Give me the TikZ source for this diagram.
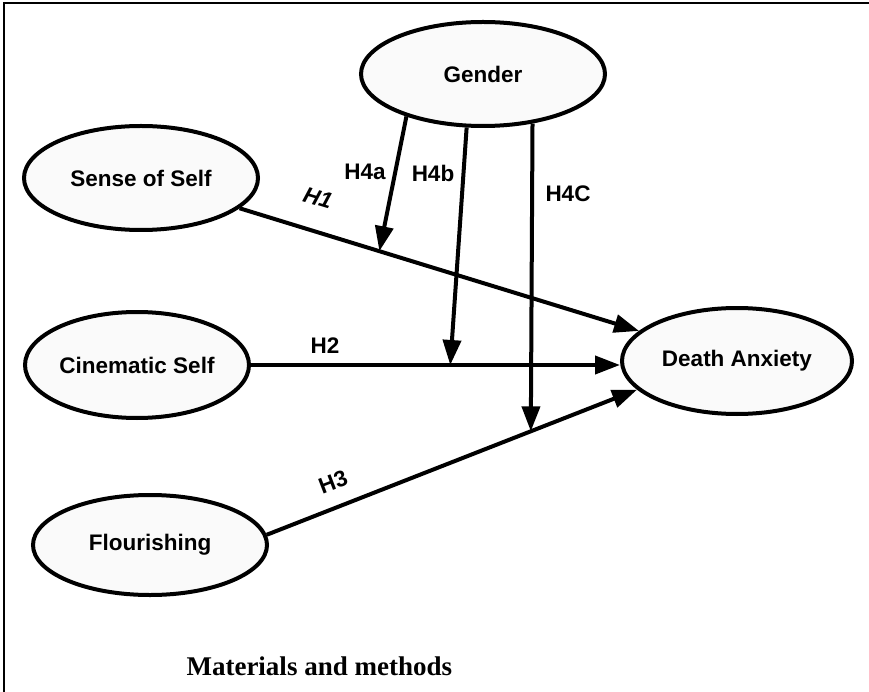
\documentclass[tikz,border=0pt]{standalone}
\usepackage{fontspec}
\setmainfont{Liberation Sans}
\newfontfamily\timesbf{Liberation Serif}
\usetikzlibrary{shapes.geometric,arrows.meta}
\tikzstyle{Oval}=[ellipse,draw,line width=4pt,fill=gray!4,inner sep=0pt,font=\fontsize{22.5}{27}\selectfont\bfseries]
\tikzstyle{Pfeil}=[line width=4pt,-{Triangle[length=25pt,width=18pt]}]
\tikzstyle{Lab}=[font=\fontsize{22.5}{27}\selectfont\bfseries,inner sep=1pt]

\begin{document}
\begin{tikzpicture}[x=1pt,y=-1pt]

		\useasboundingbox (0,0) rectangle (869,692);
		\draw[line width=2.5pt] (4,692) -- (4,3) -- (869,3);

		\node [Oval,minimum width=244,minimum height=104] (gen) at (483,74) {Gender};
		\node [Oval,minimum width=234,minimum height=104] (sos) at (141,178) {Sense of Self};
		\node [Oval,minimum width=224,minimum height=106] (cs) at (137,365) {Cinematic Self};
		\node [Oval,minimum width=234,minimum height=100] (fl) at (150,545) {Flourishing};
		\node [Oval,minimum width=230,minimum height=106] (da) at (737,361) {Death Anxiety};

		\draw[Pfeil]
		(sos) -- coordinate[pos=0.35] (m1) (da);
		\draw[Pfeil]
		(cs.east) -- coordinate[pos=0.54] (m2) (cs.east -| da.west);
		\draw[Pfeil]
		(fl.5) -- coordinate[pos=0.713] (m3) (da.196);
		\draw[Pfeil]
		(gen.209.5) -- (m1);
		\draw[Pfeil]
		(gen.253.5) -- (m2);
		\draw[Pfeil]
		(gen.315.5) -- (m3);

		\node [Lab,font=\fontsize{22.5}{27}\selectfont\bfseries\itshape,rotate=-17] (h1) at (318,198) {H1};
		\node [Lab] (h2) at (325,346) {H2};
		\node [Lab,rotate=21] (h3) at (333,482) {H3};
		\node [Lab] (h4a) at (365,172) {H4a};
		\node [Lab] (h4b) at (433,173) {H4b};
		\node [Lab] (h4c) at (568,194) {H4C};

		\node [font=\timesbf\bfseries\fontsize{27}{32}\selectfont,anchor=base west] (mm) at (183,675) {Materials and methods};

	\end{tikzpicture}
\end{document}
